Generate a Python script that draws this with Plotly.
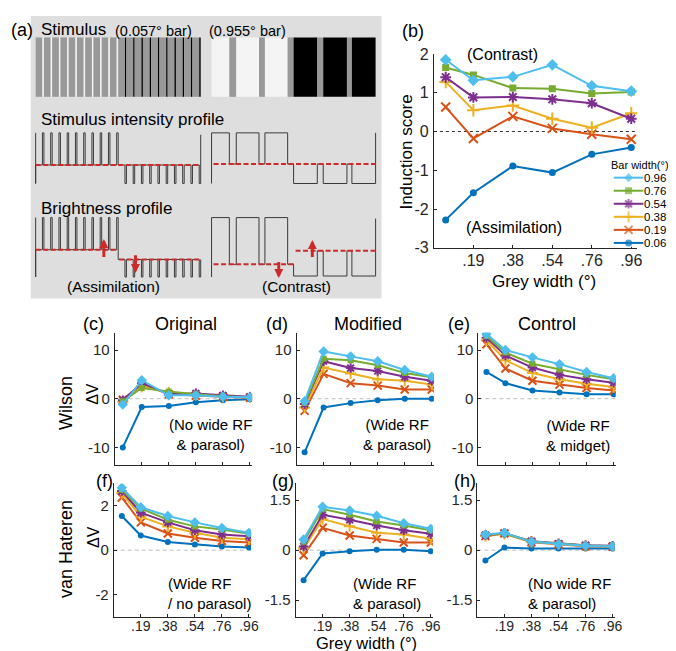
import plotly.graph_objects as go

W, H = 676, 651
FONT = "Liberation Sans, Arial, Helvetica, sans-serif"
INK = "#262626"
RED = "#cc2b2b"

# ---------------- data ----------------
grey_width = [0.057, 0.191, 0.382, 0.573, 0.764, 0.955]
tick_vals = [0.191, 0.382, 0.573, 0.764, 0.955]
tick_text = [".19", ".38", ".54", ".76", ".96"]
bar_labels = ["0.96", "0.76", "0.54", "0.38", "0.19", "0.06"]
bar_colors = ["#4DBEEE", "#77AC30", "#7E2F8E", "#EDB120", "#D95319", "#0072BD"]
bar_symbols = ["diamond", "square", "asterisk-open", "cross-thin-open", "x-thin-open", "circle"]

b_yticks = [-3, -2, -1, 0, 1, 2]
wilson_yticks = [-10, 0, 10]
vh_orig_yticks = [-2, 0, 2]
vh_yticks = [-1.5, 0, 1.5]

# (b) induction score
b_096 = [1.85, 1.32, 1.41, 1.72, 1.18, 1.04]
b_076 = [1.65, 1.46, 1.12, 1.10, 0.98, 1.02]
b_054 = [1.40, 0.88, 0.89, 0.83, 0.73, 0.33]
b_038 = [1.28, 0.55, 0.67, 0.33, 0.10, 0.47]
b_019 = [0.63, -0.18, 0.39, 0.08, -0.07, -0.20]
b_006 = [-2.28, -1.58, -0.89, -1.06, -0.59, -0.41]

# (c) Wilson, original
c_096 = [-1.2, 3.8, 0.7, 0.7, 0.4, 0.3]
c_076 = [-0.5, 2.2, 1.5, 0.9, 0.5, 0.3]
c_054 = [-0.3, 3.2, 1.0, 1.1, 0.7, 0.4]
c_038 = [-0.6, 2.5, 1.3, 0.8, 0.4, 0.3]
c_019 = [-0.2, 3.0, 0.9, 0.6, 0.4, 0.2]
c_006 = [-10.0, -1.7, -1.5, -0.7, -0.3, -0.1]

# (d) Wilson, modified
d_096 = [-0.5, 9.7, 8.7, 7.7, 5.9, 4.5]
d_076 = [-0.9, 8.2, 7.9, 6.9, 5.3, 4.4]
d_054 = [-1.1, 7.7, 6.3, 5.7, 4.5, 3.7]
d_038 = [-1.8, 6.4, 5.2, 4.0, 3.7, 2.9]
d_019 = [-2.5, 5.1, 3.2, 2.7, 1.9, 1.9]
d_006 = [-11.0, -1.8, -0.9, -0.3, 0.0, 0.0]

# (e) Wilson, control
e_096 = [13.3, 10.0, 8.5, 7.1, 5.5, 4.2]
e_076 = [12.9, 9.5, 7.2, 6.0, 4.9, 4.0]
e_054 = [12.5, 8.9, 6.4, 4.9, 4.0, 3.3]
e_038 = [12.0, 7.9, 5.3, 4.0, 3.1, 2.4]
e_019 = [11.2, 6.2, 3.7, 2.9, 2.2, 1.7]
e_006 = [5.5, 3.2, 1.7, 1.3, 0.9, 0.9]

# (f) van Hateren, original
f_096 = [2.81, 1.93, 1.54, 1.25, 1.00, 0.78]
f_076 = [2.72, 1.88, 1.37, 1.07, 0.93, 0.74]
f_054 = [2.66, 1.69, 1.25, 0.90, 0.71, 0.63]
f_038 = [2.57, 1.51, 1.07, 0.78, 0.56, 0.49]
f_019 = [2.37, 1.25, 0.75, 0.56, 0.41, 0.34]
f_006 = [1.54, 0.66, 0.37, 0.26, 0.16, 0.12]

# (g) van Hateren, modified
g_096 = [0.32, 1.30, 1.19, 1.03, 0.81, 0.64]
g_076 = [0.25, 1.23, 1.06, 0.86, 0.74, 0.60]
g_054 = [0.11, 1.06, 0.91, 0.74, 0.60, 0.49]
g_038 = [0.05, 0.93, 0.72, 0.52, 0.47, 0.34]
g_019 = [-0.15, 0.67, 0.44, 0.34, 0.23, 0.23]
g_006 = [-0.90, -0.10, -0.03, 0.01, 0.01, -0.03]

# (h) van Hateren, control
h_096 = [0.47, 0.52, 0.25, 0.18, 0.13, 0.11]
h_076 = [0.46, 0.50, 0.26, 0.19, 0.14, 0.12]
h_054 = [0.45, 0.51, 0.27, 0.20, 0.15, 0.13]
h_038 = [0.43, 0.49, 0.25, 0.18, 0.13, 0.11]
h_019 = [0.42, 0.50, 0.24, 0.17, 0.12, 0.10]
h_006 = [-0.31, 0.08, 0.05, 0.05, 0.05, 0.05]

# ---------------- panel (a) illustration parameters ----------------
stim_top, stim_bot = 22, 83
left_x0, left_x1 = 28, 195
left_cycles = 20
left_grey_frac = 0.82
right_x0 = 206
right_widths = [18, 7, 23, 6, 23, 6, 24, 6, 24, 5, 24]
right_kinds = ["w", "g1", "w", "g1", "w", "g1", "b", "g2", "b", "g2", "b"]
stim_colors = {"w": "#f4f4f4", "b": "#000000", "g1": "#999999", "g2": "#999999"}
int_levels = {"w": 120, "g1": 153, "g2": 153, "b": 172}
int_levels_r = {"w": 120, "g1": 152, "g2": 152, "b": 172}
bri_levels = {"w": 207, "g1": 240, "g2": 250, "b": 268}
bri_levels_r = {"w": 207, "g1": 255, "g2": 241, "b": 267}

# ---------------- helpers ----------------
def dom_x(x0, x1):
    return [x0 / W, x1 / W]

def dom_y(y0, y1):
    return [1 - y1 / H, 1 - y0 / H]

def tick_labels(vals):
    return [("%g" % v) for v in vals]

fig = go.Figure()

def add_series(xref, yref, ys, i, msize):
    col = bar_colors[i]
    sym = bar_symbols[i]
    openm = sym.endswith("-open")
    size = msize + (2 if openm or sym == "diamond" else 0)
    marker = dict(symbol=sym, size=size, color=col,
                  line=dict(color=col, width=2 if openm else 0))
    fig.add_trace(go.Scatter(x=grey_width, y=ys, mode="lines+markers",
                             line=dict(color=col, width=2), marker=marker,
                             xaxis=xref, yaxis=yref, showlegend=False,
                             hoverinfo="skip"))

def axis_style(dom, rng, **kw):
    d = dict(domain=dom, range=rng, showline=True, linecolor=INK, linewidth=1,
             ticks="inside", ticklen=3, tickcolor=INK, tickwidth=1,
             showgrid=False, zeroline=False,
             tickfont=dict(family=FONT, size=15, color=INK))
    d.update(kw)
    return d

layout_axes = {}

# panel b
b_series = [b_096, b_076, b_054, b_038, b_019, b_006]
for i in reversed(range(6)):
    add_series("x", "y", b_series[i], i, 7)
layout_axes["xaxis"] = axis_style(dom_x(431, 637), [0, 0.985], anchor="y",
                                  tickvals=tick_vals, ticktext=tick_text,
                                  tickfont=dict(family=FONT, size=16, color=INK),
                                  ticklabelstandoff=-2)
layout_axes["yaxis"] = axis_style(dom_y(39, 238), [-3, 2], anchor="x",
                                  tickvals=b_yticks, ticktext=tick_labels(b_yticks),
                                  tickfont=dict(family=FONT, size=16, color=INK),
                                  ticklabelstandoff=1)

panel_specs = [
    ("2", [c_096, c_076, c_054, c_038, c_019, c_006], 108, 325, 461, [-13.6, 13.6], wilson_yticks, False),
    ("3", [d_096, d_076, d_054, d_038, d_019, d_006], 292, 325, 461, [-13.6, 13.6], wilson_yticks, False),
    ("4", [e_096, e_076, e_054, e_038, e_019, e_006], 476, 325, 461, [-13.6, 13.6], wilson_yticks, False),
    ("5", [f_096, f_076, f_054, f_038, f_019, f_006], 107, 480, 617, [-3, 3], vh_orig_yticks, True),
    ("6", [g_096, g_076, g_054, g_038, g_019, g_006], 291, 480, 617, [-2, 2], vh_yticks, True),
    ("7", [h_096, h_076, h_054, h_038, h_019, h_006], 475, 480, 617, [-2, 2], vh_yticks, True),
]
for key, series, x0, y0, y1, yr, yt, showx in panel_specs:
    for i in reversed(range(6)):
        add_series("x" + key, "y" + key, series[i], i, 6)
    layout_axes["xaxis" + key] = axis_style(dom_x(x0, x0 + 139), [0, 0.97], anchor="y" + key,
                                            tickvals=tick_vals, ticktext=tick_text,
                                            showticklabels=showx, ticklabelstandoff=-4,
                                            tickfont=dict(family=FONT, size=14, color=INK))
    layout_axes["yaxis" + key] = axis_style(dom_y(y0, y1), yr, anchor="x" + key,
                                            tickvals=yt, ticktext=tick_labels(yt),
                                            ticklabelstandoff=1)

# overlay pixel axis for the illustration / labels
layout_axes["xaxis8"] = dict(domain=[0, 1], range=[0, W], visible=False, anchor="y8",
                             showgrid=False, zeroline=False)
layout_axes["yaxis8"] = dict(domain=[0, 1], range=[H, 0], visible=False, anchor="x8",
                             showgrid=False, zeroline=False)

shapes = []
annotations = []

# zero lines
shapes.append(dict(type="line", xref="x domain", yref="y", x0=0, x1=1, y0=0, y1=0,
                   line=dict(color="#333333", width=1, dash="3px,3px"), layer="below"))
for key, *_ in panel_specs:
    shapes.append(dict(type="line", xref="x%s domain" % key, yref="y" + key, x0=0, x1=1,
                       y0=0, y1=0, line=dict(color="#bdbdbd", width=1, dash="4px,3px"),
                       layer="below"))

# panel (a) background
P = dict(xref="x8", yref="y8")
shapes.append(dict(type="rect", x0=23, x1=378, y0=0, y1=290, fillcolor="#dedede",
                   line=dict(width=0), layer="below", **P))

# stimulus segments
p = (left_x1 - left_x0) / left_cycles
left_segs = []
for i in range(left_cycles):
    a = left_x0 + i * p
    left_segs.append((a, a + p * left_grey_frac, "g1" if i < left_cycles // 2 else "g2"))
    left_segs.append((a + p * left_grey_frac, a + p, "w" if i < left_cycles // 2 else "b"))
right_segs = []
xx = right_x0
for w_, k in zip(right_widths, right_kinds):
    right_segs.append((xx, xx + w_, k))
    xx += w_

for a, b_, k in left_segs + right_segs:
    shapes.append(dict(type="rect", x0=a, x1=b_, y0=stim_top, y1=stim_bot,
                       fillcolor=stim_colors[k], line=dict(width=0), layer="below", **P))

def profile(segs, levels, start, end):
    xs, ys = [], []
    for (x, y) in start:
        xs.append(x); ys.append(y)
    for a, b_, k in segs:
        xs += [a, b_]
        ys += [levels[k], levels[k]]
    for (x, y) in end:
        xs.append(x); ys.append(y)
    fig.add_trace(go.Scatter(x=xs, y=ys, mode="lines", line=dict(color="#3a3a3a", width=1),
                             xaxis="x8", yaxis="y8", showlegend=False, hoverinfo="skip"))

profile(left_segs, int_levels, [(left_x0, 120), (left_x0, 172)], [(left_x1, 172), (left_x1, 122)])
profile(right_segs, int_levels_r, [(right_x0, 172)], [(xx, 172), (xx, 120)])
profile(left_segs, bri_levels, [(left_x0, 207), (left_x0, 268)], [(left_x1, 268), (left_x1, 250)])
profile(right_segs, bri_levels_r, [(right_x0, 268)], [(xx, 267), (xx, 208)])

half = (left_x0 + left_x1) / 2
for x0, x1, y in [(left_x0, left_x1, 153), (right_x0 + 2, xx, 152),
                  (left_x0, half, 240), (half + 1, left_x1, 250),
                  (right_x0 + 2, 289, 255), (291, xx, 241)]:
    shapes.append(dict(type="line", x0=x0, x1=x1, y0=y, y1=y,
                       line=dict(color=RED, width=2, dash="5px,2.5px"), **P))

for x, tail, head in [(97, 249, 229), (129, 244, 264), (274, 251, 269), (308, 249, 230)]:
    annotations.append(dict(x=x, y=head, ax=x, ay=tail, axref="x8", ayref="y8",
                            showarrow=True, arrowhead=2, arrowwidth=3, arrowsize=0.6,
                            arrowcolor=RED, text="", standoff=0, startstandoff=0, **P))

def txt(x, y, s, size, anchor="left", angle=0, color="black", align="left"):
    annotations.append(dict(x=x, y=y, text=s, showarrow=False, xanchor=anchor,
                            yanchor="middle", textangle=angle, align=align,
                            font=dict(family=FONT, size=size, color=color), **P))

txt(1, 14, "(a)", 18)
txt(31, 14, "Stimulus", 17)
txt(106, 15, "(0.057° bar)", 14.5)
txt(201, 15, "(0.955° bar)", 14.5)
txt(31, 106, "Stimulus intensity profile", 17)
txt(31, 198, "Brightness profile", 17)
txt(107, 278, "(Assimilation)", 15.5, anchor="center")
txt(292, 278, "(Contrast)", 15.5, anchor="center")

# panel b texts
txt(410, 15, "(b)", 18, anchor="center")
txt(500, 40, "(Contrast)", 16, anchor="center")
txt(512, 217, "(Assimilation)", 16, anchor="center")
txt(403, 140, "Induction score", 17, anchor="center", angle=-90)
txt(542, 273, "Grey width (°)", 17, anchor="center")

# custom legend for b
shapes.append(dict(type="rect", x0=607, x1=676, y0=146, y1=237, fillcolor="white",
                   line=dict(width=0), layer="below", **P))
txt(608, 153, "Bar width(°)", 11)
for i, lab in enumerate(bar_labels):
    yy = 166 + i * 13.4
    col = bar_colors[i]
    sym = bar_symbols[i]
    openm = sym.endswith("-open")
    fig.add_trace(go.Scatter(x=[613, 628, 643], y=[yy] * 3, mode="lines+markers",
                             line=dict(color=col, width=2),
                             marker=dict(symbol=sym, size=[0, 8 if openm else 7, 0], color=col,
                                         line=dict(color=col, width=2 if openm else 0)),
                             xaxis="x8", yaxis="y8", showlegend=False, hoverinfo="skip"))
    txt(642, yy, lab, 11.5)

# lower panel labels
txt(87, 316, "(c)", 18, anchor="center")
txt(180, 316, "Original", 18, anchor="center")
txt(272, 316, "(d)", 18, anchor="center")
txt(364, 316, "Modified", 18, anchor="center")
txt(456, 316, "(e)", 18, anchor="center")
txt(545, 316, "Control", 18, anchor="center")
txt(98, 477, "(f)", 18, anchor="center")
txt(278, 477, "(g)", 18, anchor="center")
txt(462, 477, "(h)", 18, anchor="center")

txt(58, 397, "Wilson", 18, anchor="center", angle=-90)
txt(86, 388, "ΔV", 16, anchor="center", angle=-90)
txt(58, 547, "van Hateren", 18, anchor="center", angle=-90)
txt(86, 535, "ΔV", 16, anchor="center", angle=-90)
txt(363, 643.5, "Grey width (°)", 16.5, anchor="center")

txt(205, 430, "(No wide RF<br>& parasol)", 15, anchor="center", align="center")
txt(394, 430, "(Wide RF<br>& parasol)", 15, anchor="center", align="center")
txt(577, 431, "(Wide RF<br>& midget)", 15, anchor="center", align="center")
txt(160, 593, "(Wide RF<br>/ no parasol)", 15, anchor="left")
txt(347, 593, "(Wide RF<br>& parasol)", 15, anchor="left")
txt(524, 593, "(No wide RF<br>& parasol)", 15, anchor="left")

fig.update_layout(width=W, height=H, margin=dict(l=0, r=0, t=0, b=0),
                  paper_bgcolor="white", plot_bgcolor="rgba(0,0,0,0)",
                  showlegend=False, shapes=shapes, annotations=annotations,
                  font=dict(family=FONT, color=INK), **layout_axes)

fig.write_html("out.html")
